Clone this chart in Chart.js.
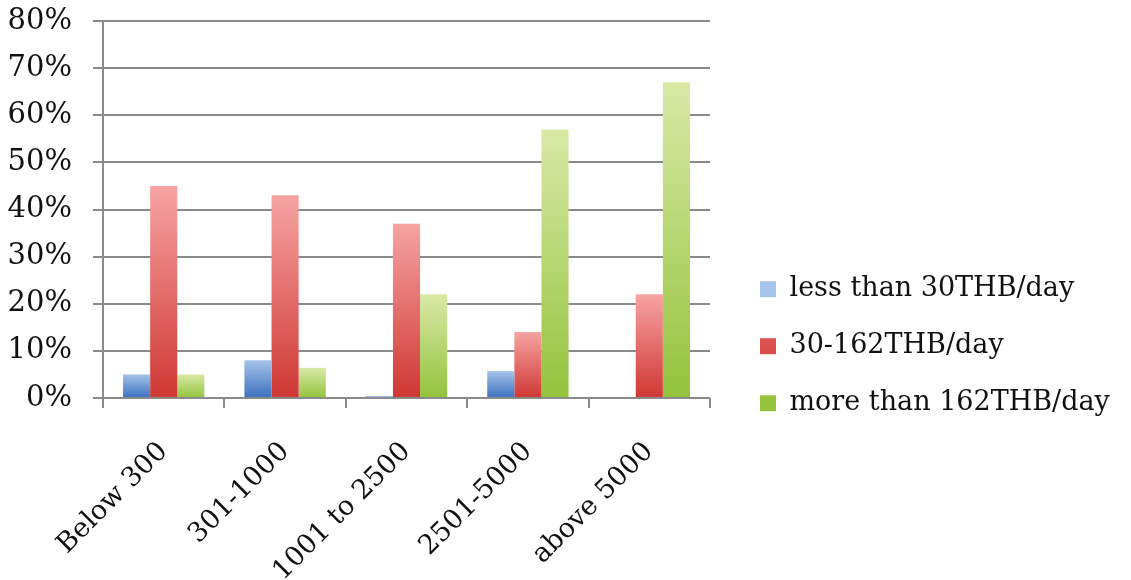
<!DOCTYPE html>
<html>
<head>
<meta charset="utf-8">
<script src="https://cdn.jsdelivr.net/npm/chart.js@4"></script>
<style>
  html, body { margin: 0; padding: 0; background: #fff; }
  #wrap { width: 1131px; height: 580px; }
</style>
</head>
<body>
<div id="wrap"><canvas id="incomeChart"></canvas></div>
<script>
  // data
  const categories = ['Below 300', '301-1000', '1001 to 2500', '2501-5000', 'above 5000'];
  const seriesNames = ['less than 30THB/day', '30-162THB/day', 'more than 162THB/day'];
  const lessThan30 = [5, 8, 0.4, 5.7, 0];
  const from30to162 = [45, 43, 37, 14, 22];
  const moreThan162 = [5, 6.4, 22, 57, 67];
  const yTicks = [0, 10, 20, 30, 40, 50, 60, 70, 80];

  // light top -> dark bottom, like the old office bars
  const palette = [
    { top: '#a6c3e9', bottom: '#3b70bf', flat: '#6f98d4' },
    { top: '#f6a4a3', bottom: '#cf3733', flat: '#e26a68' },
    { top: '#d9e9a6', bottom: '#93c33d', flat: '#b6d670' }
  ];

  function barFill(idx) {
    return function (ctx) {
      const chart = ctx.chart;
      const col = palette[idx];
      if (!chart.chartArea || ctx.type !== 'data') return col.flat;
      const y = chart.scales.y;
      const top = y.getPixelForValue(ctx.raw);
      const bottom = y.getPixelForValue(0);
      if (bottom - top < 1) return col.bottom;
      const g = chart.ctx.createLinearGradient(0, top, 0, bottom);
      g.addColorStop(0, col.top);
      g.addColorStop(1, col.bottom);
      return g;
    };
  }

  const allSeries = [lessThan30, from30to162, moreThan162];
  const datasets = allSeries.map((vals, i) => ({
    label: seriesNames[i],
    data: vals,
    backgroundColor: barFill(i),
    borderWidth: 0,
    categoryPercentage: 0.67,
    barPercentage: 1.0
  }));

  const gridCol = '#8a8a8a';
  const font = 'DejaVu Serif';
  const legendWidth = 395;

  // chart.js caps a side legend at a quarter of the width; this one needs more room
  const wideLegend = {
    id: 'wideLegend',
    beforeLayout(chart) {
      const lg = chart.legend;
      if (!lg || lg._wide) return;
      const origFit = lg.fit;
      lg.fit = function () {
        origFit.call(this);
        this.width = legendWidth;
      };
      lg._wide = true;
    }
  };

  new Chart(document.getElementById('incomeChart'), {
    type: 'bar',
    data: { labels: categories, datasets: datasets },
    plugins: [wideLegend],
    options: {
      responsive: true,
      maintainAspectRatio: false,
      animation: false,
      layout: { padding: { left: 6, top: 0, right: 6, bottom: 0 } },
      plugins: {
        tooltip: { enabled: false },
        legend: {
          position: 'right',
          align: 'center',
          title: { display: true, text: '', padding: { top: 98, bottom: 0 } },
          labels: {
            boxWidth: 16,
            boxHeight: 16,
            padding: 30,
            color: '#111',
            font: { family: font, size: 27 }
          }
        }
      },
      scales: {
        x: {
          grid: {
            offset: true,
            drawOnChartArea: false,
            drawTicks: true,
            tickLength: 10,
            color: gridCol,
            lineWidth: 2
          },
          border: { display: false },
          ticks: {
            color: '#111',
            font: { family: font, size: 27 },
            minRotation: 45,
            maxRotation: 45,
            padding: 28,
            labelOffset: 0
          },
          afterFit: s => { s.height = 182; }
        },
        y: {
          min: 0,
          max: 80,
          afterBuildTicks: axis => { axis.ticks = yTicks.map(v => ({ value: v })); },
          afterFit: s => { s.width = 97; s.paddingTop = 21; },
          grid: {
            color: gridCol,
            lineWidth: 2,
            tickLength: 10
          },
          border: { display: true, color: gridCol, width: 2 },
          ticks: {
            color: '#111',
            font: { family: font, size: 29 },
            padding: 21,
            callback: v => v + '%'
          }
        },
        // empty strip that leaves the gap between plot and legend
        gap: {
          type: 'linear',
          position: 'right',
          display: true,
          grid: { display: false },
          border: { display: false },
          ticks: { display: false },
          afterFit: s => { s.width = 20; }
        }
      }
    }
  });
</script>
</body>
</html>
